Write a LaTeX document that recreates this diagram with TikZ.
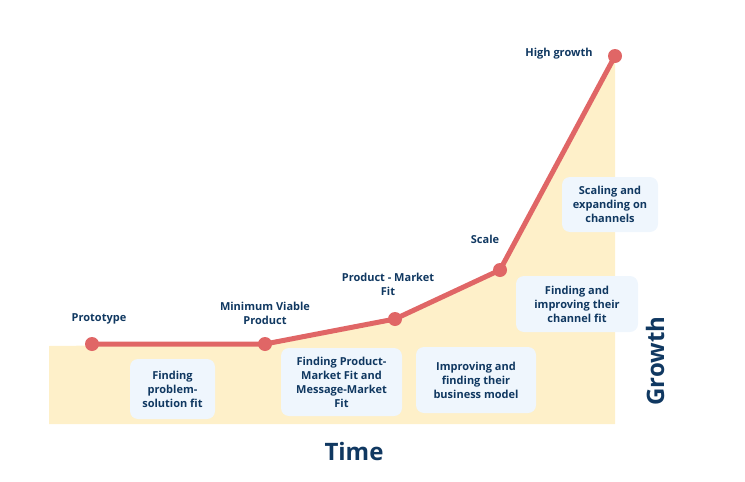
\documentclass[tikz,border=0pt]{standalone}
\usepackage{fontspec}
\setmainfont{Open Sans}
\definecolor{fillyellow}{HTML}{FEF0C9}
\definecolor{boxblue}{HTML}{EFF6FD}
\definecolor{linered}{HTML}{E06666}
\definecolor{navy}{HTML}{103861}
\begin{document}
\begin{tikzpicture}[x=1pt,y=-1pt,
  lbl/.style={text=navy,font=\fontsize{11}{14}\selectfont\bfseries,align=center,inner sep=0pt},
  stagebox/.style={fill=boxblue,rounded corners=8pt,text=navy,font=\fontsize{11}{14}\selectfont\bfseries,align=center,inner sep=0pt},
  milestone/.style={circle,fill=linered,minimum size=14pt,inner sep=0pt},
  axislbl/.style={text=navy,font=\fontsize{24}{26}\selectfont\bfseries,inner sep=0pt},
  curve/.style={draw=linered,line width=5pt,line join=round}]
\useasboundingbox (0,0) rectangle (745,482);
% points
\coordinate (p1) at (92,344);
\coordinate (p2) at (265,344);
\coordinate (p3) at (395,319);
\coordinate (p4) at (500,270);
\coordinate (p5) at (615,56);
% area
\fill[fillyellow] (49,346) -- (p2) -- (p3) -- (p4) -- (p5) -- (615,424) -- (49,424) -- cycle;
% boxes
\path[stagebox] (130,359) rectangle (215,419);
\node[lbl] (b1) at (172.5,389) {Finding\\problem-\\solution fit};
\path[stagebox] (281,348) rectangle (402,416);
\node[lbl] (b2) at (341.5,382) {Finding Product-\\Market Fit and\\Message-Market\\Fit};
\path[stagebox] (416,347) rectangle (536,413);
\node[lbl] (b3) at (476,380) {Improving and\\finding their\\business model};
\path[stagebox] (516,276) rectangle (638,332);
\node[lbl] (b4) at (577,304) {Finding and\\improving their\\channel fit};
\path[stagebox] (562,177) rectangle (658,232);
\node[lbl] (b5) at (610,204.5) {Scaling and\\expanding on\\channels};
% curve
\draw[curve] (p1) -- (p2) -- (p3) -- (p4) -- (p5);
\foreach \p in {p1,p2,p3,p4,p5} \node[milestone] (m\p) at (\p) {};
% labels
\node[lbl] (l1) at (99,319) {Prototype};
\node[lbl] (l2) at (265,313) {Minimum Viable\\Product};
\node[lbl] (l3) at (388,284) {Product - Market\\Fit};
\node[lbl] (l4) at (485,239) {Scale};
\node[lbl] (l5) at (559,54) {High growth};
\node[axislbl] (time) at (354,451) {Time};
\node[axislbl,rotate=90] (growth) at (655,361) {Growth};
\end{tikzpicture}
\end{document}
